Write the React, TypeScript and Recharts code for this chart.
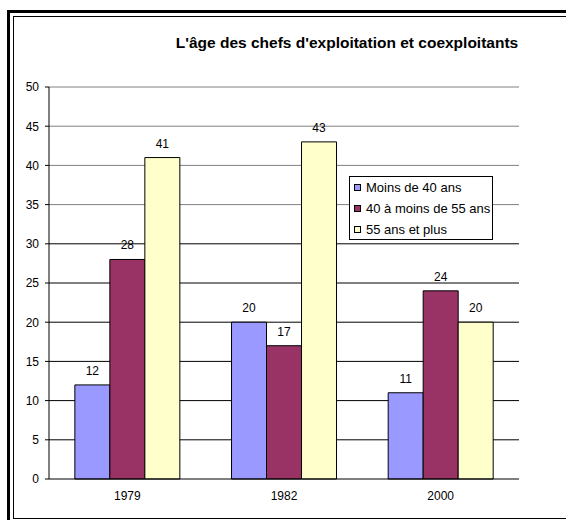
import { BarChart, Bar, XAxis, YAxis, CartesianGrid, ReferenceLine, Legend, LabelList } from "recharts";

const YEARS = ["1979", "1982", "2000"];
const UNDER_40 = [12, 20, 11];
const FROM_40_TO_55 = [28, 17, 24];
const OVER_55 = [41, 43, 20];

const SERIES_KEYS = ["under40", "mid", "over55"];
const SERIES_NAMES = ["Moins de 40 ans", "40 à moins de 55 ans", "55 ans et plus"];
const SERIES_COLORS = ["#9999FF", "#993366", "#FFFFCC"];

const Y_TICKS = [0, 5, 10, 15, 20, 25, 30, 35, 40, 45, 50];
const GRID_VALUES = [5, 10, 15, 20, 25, 30, 35, 40, 45, 50];
// category boundaries on the hidden number axis, used for the x tick marks
const EDGE_TICKS = [0, 1, 2, 3];

const FONT = "'Liberation Sans', Arial, sans-serif";
const GRAY = "#808080";

const data = YEARS.map((year, i) => ({
    year,
    under40: UNDER_40[i],
    mid: FROM_40_TO_55[i],
    over55: OVER_55[i],
}));

const gridLine = (p: any) => (
    <line
        key={`h-${p.index}`}
        x1={p.x1}
        y1={p.y1}
        x2={p.x2}
        y2={p.y2}
        stroke={GRID_VALUES[p.index] >= 35 ? GRAY : "#000"}
        strokeWidth={1}
    />
);

const YTick = (p: any) => (
    <text x={p.x} y={p.y} dy="0.36em" textAnchor="end" fill="#000" fontSize={12} fontFamily={FONT}>
        {p.payload.value}
    </text>
);

const XTick = (p: any) => (
    <text x={p.x} y={p.y} dy="0.71em" textAnchor="middle" fill="#000" fontSize={12} fontFamily={FONT}>
        {p.payload.value}
    </text>
);

// legend keeps the series order instead of the sorted payload
const renderLegend = () => (
    <div
        style={{
            boxSizing: "border-box",
            width: 144,
            height: 64,
            border: "1px solid #000",
            background: "#fff",
            padding: "0 0 0 4px",
            fontFamily: FONT,
            fontSize: 13,
        }}
    >
        {SERIES_NAMES.map((name, i) => (
            <div key={name} style={{ display: "flex", alignItems: "center", height: 21 }}>
                <span
                    style={{
                        boxSizing: "border-box",
                        width: 7,
                        height: 7,
                        border: "1px solid #000",
                        background: SERIES_COLORS[i],
                        marginRight: 5,
                    }}
                />
                <span>{name}</span>
            </div>
        ))}
    </div>
);

export default function App() {
    return (
        <div style={{ position: "absolute", left: 0, top: 0, width: 566, height: 520, overflow: "hidden", background: "#fff" }}>
            {/* double frame, open on the right and bottom */}
            <div style={{ position: "absolute", left: 7, top: 10, width: 700, height: 700, border: "3px solid #000" }} />
            <div style={{ position: "absolute", left: 13, top: 16, width: 700, height: 503, boxSizing: "border-box", border: "1px solid #000" }} />

            <div
                style={{
                    position: "absolute",
                    left: 147,
                    top: 34,
                    width: 400,
                    textAlign: "center",
                    fontFamily: FONT,
                    fontWeight: "bold",
                    fontSize: 15.5,
                    lineHeight: "17px",
                }}
            >
                L'âge des chefs d'exploitation et coexploitants
            </div>

            <div style={{ position: "absolute", left: 0, top: 0 }}>
                <BarChart
                    width={566}
                    height={520}
                    data={data}
                    margin={{ top: 87, right: 47, bottom: 11, left: 0 }}
                    barGap={0}
                    barCategoryGap="16.5%"
                >
                    <CartesianGrid vertical={false} horizontalValues={GRID_VALUES} horizontal={gridLine} />
                    <XAxis
                        xAxisId="edges"
                        type="number"
                        domain={[0, 3]}
                        ticks={EDGE_TICKS}
                        tick={false}
                        axisLine={false}
                        tickLine={{ stroke: "#000" }}
                        tickSize={5}
                        height={0}
                    />
                    <XAxis
                        dataKey="year"
                        height={30}
                        tickLine={false}
                        tickSize={0}
                        tickMargin={12}
                        axisLine={{ stroke: "#000" }}
                        tick={<XTick />}
                    />
                    <YAxis
                        width={49}
                        domain={[0, 50]}
                        ticks={Y_TICKS}
                        interval={0}
                        tickSize={4}
                        tickMargin={6}
                        axisLine={{ stroke: "#000" }}
                        tickLine={{ stroke: "#000" }}
                        tick={<YTick />}
                    />
                    <ReferenceLine xAxisId="edges" x={3} stroke={GRAY} />
                    <Legend
                        layout="vertical"
                        align="center"
                        verticalAlign="middle"
                        content={renderLegend}
                        wrapperStyle={{ position: "absolute", left: 349, top: 176, width: 144 }}
                    />
                    {SERIES_KEYS.map((key, i) => (
                        <Bar
                            key={key}
                            dataKey={key}
                            name={SERIES_NAMES[i]}
                            fill={SERIES_COLORS[i]}
                            stroke="#000"
                            isAnimationActive={false}
                        >
                            <LabelList dataKey={key} position="top" offset={10} fill="#000" fontSize={12} fontFamily={FONT} />
                        </Bar>
                    ))}
                </BarChart>
            </div>
        </div>
    );
}
